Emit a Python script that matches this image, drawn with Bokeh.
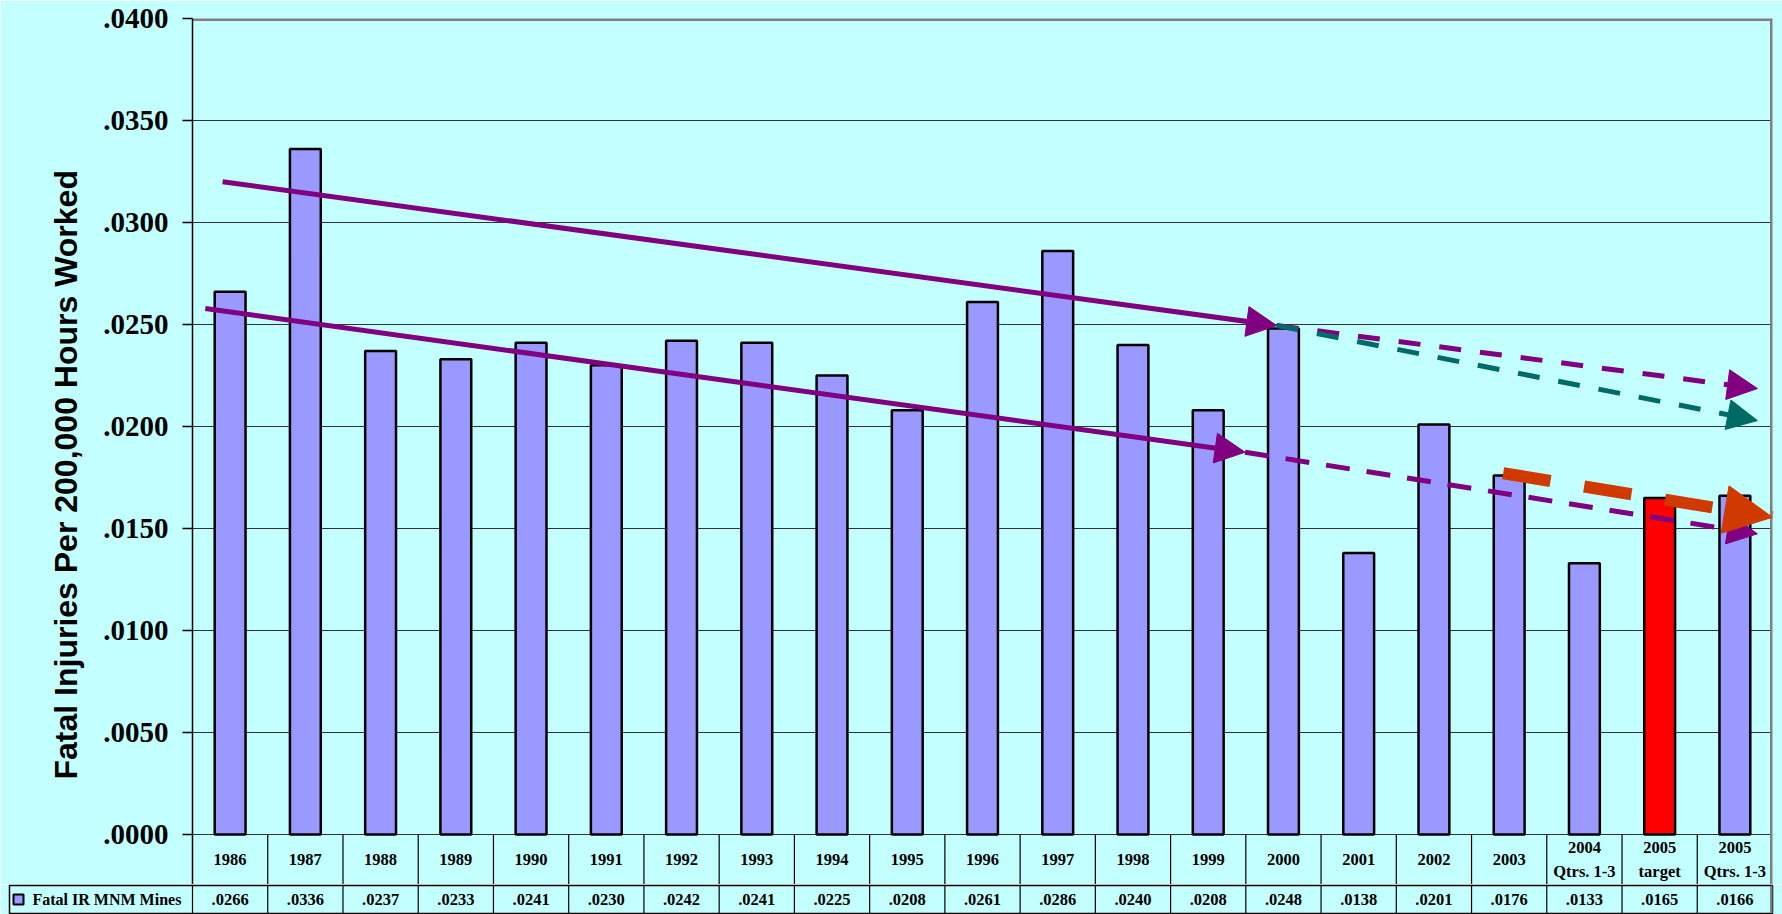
from bokeh.plotting import figure
from bokeh.models import FixedTicker, Range1d, Arrow, NormalHead, Title, ColumnDataSource
from bokeh.layouts import column
from bokeh.embed import file_html
from bokeh.resources import INLINE
from bokeh.core.properties import value

# ---------------- data ----------------
categories = ["1986", "1987", "1988", "1989", "1990", "1991", "1992", "1993", "1994",
              "1995", "1996", "1997", "1998", "1999", "2000", "2001", "2002", "2003",
              "2004\nQtrs. 1-3", "2005\ntarget", "2005\nQtrs. 1-3"]
values = [0.0266, 0.0336, 0.0237, 0.0233, 0.0241, 0.0230, 0.0242, 0.0241, 0.0225,
          0.0208, 0.0261, 0.0286, 0.0240, 0.0208, 0.0248, 0.0138, 0.0201, 0.0176,
          0.0133, 0.0165, 0.0166]
value_labels = [".0266", ".0336", ".0237", ".0233", ".0241", ".0230", ".0242", ".0241",
                ".0225", ".0208", ".0261", ".0286", ".0240", ".0208", ".0248", ".0138",
                ".0201", ".0176", ".0133", ".0165", ".0166"]
is_target = [False] * 19 + [True, False]
series_name = "Fatal IR MNM Mines"
y_title = "Fatal Injuries Per 200,000 Hours Worked"
y_ticks = [0.0, 0.005, 0.010, 0.015, 0.020, 0.025, 0.030, 0.035, 0.040]
y_tick_labels = [".0000", ".0050", ".0100", ".0150", ".0200", ".0250", ".0300", ".0350", ".0400"]

# trend arrows: start / end in (category position, rate)
trend_x0 = [0.40, 14.41, 14.41, 0.17, 13.99, 17.42]
trend_y0 = [0.0320, 0.02495, 0.02495, 0.02578, 0.01874, 0.01771]
trend_x1 = [14.41, 20.80, 20.80, 13.99, 20.80, 21.00]
trend_y1 = [0.02495, 0.02186, 0.02029, 0.01874, 0.01474, 0.01555]
trend_color = ["#800080", "#800080", "#006B66", "#800080", "#800080", "#D03A00"]
trend_dash = ["solid", "22 19", "22 19", "solid", "24 17", "48 34"]
trend_width = [5, 5, 5, 5, 5, 12]
trend_head = [30, 30, 30, 30, 30, 48]

# ---------------- styling ----------------
BG = "#C4FFFF"
BAR = "#9999FF"
TARGET = "#FF0000"
PX_PER_UNIT = 816 / 0.04
CAT_ROW_PX = 50
cat_row = CAT_ROW_PX / PX_PER_UNIT
n = len(categories)
xs = [i + 0.5 for i in range(n)]
colors = [TARGET if t else BAR for t in is_target]
TABLE_FONT = "16.5px"

# ---- main chart + category row of the table ----
p = figure(width=1782, height=884, x_range=Range1d(0, n), y_range=Range1d(-cat_row, 0.04),
           output_backend="svg", toolbar_location=None, x_axis_location=None,
           min_border_left=192, min_border_right=10, min_border_top=18, min_border_bottom=0,
           background_fill_color=BG, border_fill_color=BG, outline_line_color=None,
           frame_align=False)

ticker = FixedTicker(ticks=y_ticks)
ax = p.yaxis[0]
ax.ticker = ticker
ax.major_label_overrides = dict(zip(y_ticks, y_tick_labels))
ax.major_label_text_font = "Liberation Serif"
ax.major_label_text_font_style = "bold"
ax.major_label_text_font_size = "29px"
ax.major_label_text_color = "black"
ax.major_label_standoff = 14
ax.major_tick_out = 10
ax.major_tick_in = 0
ax.minor_tick_out = 0
ax.minor_tick_in = 0
ax.axis_line_color = "black"
ax.axis_line_width = 1.5
ax.major_tick_line_color = "black"
ax.major_tick_line_width = 1.5

p.ygrid.ticker = ticker
p.ygrid.grid_line_color = "#333333"
p.ygrid.grid_line_width = 1
p.xgrid.visible = False

t = Title(text=y_title, align="left", offset=105, text_font="Liberation Sans",
          text_font_size="32px", text_font_style="bold", text_color="black", standoff=34)
p.add_layout(t, "left")

src = ColumnDataSource(dict(x=xs, top=values, color=colors, label=categories))
p.vbar(x="x", top="top", bottom=0, width=0.41, fill_color="color", line_color="black",
       line_width=2.5, source=src)

# plot-area border (top and right, grey)
p.segment(x0=[0, n], y0=[0.04, -cat_row], x1=[n, n], y1=[0.04, 0.04],
          line_color="#808080", line_width=5)

bounds = list(range(1, n))
p.segment(x0=bounds, y0=[-cat_row] * len(bounds), x1=bounds, y1=[0] * len(bounds),
          line_color="black", line_width=1.2)
p.text(x="x", y=-cat_row / 2, text="label", source=src, text_align="center",
       text_baseline="middle", text_font=value("Liberation Serif"), text_font_style="bold",
       text_font_size=TABLE_FONT, text_line_height=1.3, text_color="black")

for i in range(len(trend_x0)):
    p.add_layout(Arrow(end=NormalHead(size=trend_head[i], fill_color=trend_color[i],
                                      line_color=trend_color[i], line_width=1),
                       x_start=trend_x0[i], y_start=trend_y0[i],
                       x_end=trend_x1[i], y_end=trend_y1[i],
                       line_color=trend_color[i], line_width=trend_width[i],
                       line_dash=trend_dash[i]))

# ---- value row of the table, with the legend key cell ----
unit = 1580 / n
left_px = 183
x_left = -left_px / unit
q = figure(width=1782, height=30, x_range=Range1d(x_left, n), y_range=Range1d(0, 1),
           output_backend="svg", toolbar_location=None, x_axis_location=None,
           y_axis_location=None, min_border_left=9, min_border_right=10,
           min_border_top=1, min_border_bottom=1,
           background_fill_color=BG, border_fill_color=BG,
           outline_line_color="black", outline_line_width=1.5, frame_align=False)
q.xgrid.visible = False
q.ygrid.visible = False
vb = list(range(0, n))
q.segment(x0=vb, y0=[0] * n, x1=vb, y1=[1] * n, line_color="black", line_width=1.2)
q.segment(x0=[n], y0=[0], x1=[n], y1=[1], line_color="#808080", line_width=5)
q.text(x=xs, y=[0.5] * n, text=value_labels, text_align="center", text_baseline="middle",
       text_font=value("Liberation Serif"), text_font_style="bold", text_font_size=TABLE_FONT,
       text_color="black")
q.scatter(x=[x_left + 9 / unit], y=[0.5], marker="square", size=10, fill_color=BAR,
          line_color="black", line_width=2)
q.text(x=[x_left + 23 / unit], y=[0.5], text=[series_name], text_align="left",
       text_baseline="middle", text_font=value("Liberation Serif"), text_font_style="bold",
       text_font_size="16px", text_color="black")

layout = column(p, q, spacing=0)
open("out.html", "w").write(file_html(layout, INLINE))
